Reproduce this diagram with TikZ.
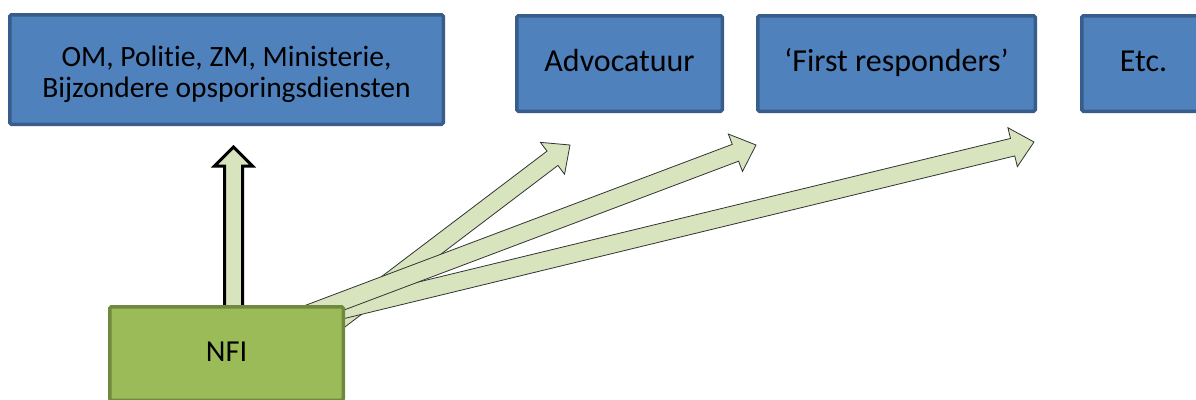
\documentclass[tikz,border=0pt]{standalone}
\usepackage{fontspec}
\setmainfont{Carlito}[Ligatures=NoCommon]
\usetikzlibrary{calc}
\definecolor{boxblue}{HTML}{4F81BD}
\definecolor{boxblueline}{HTML}{385D8A}
\definecolor{nfigreen}{HTML}{9BBB59}
\definecolor{nfiline}{HTML}{71893F}
\definecolor{arrowfill}{HTML}{D7E4BD}
\newcommand{\blockarr}[6]{%
  \coordinate (hb) at ($(#2)!#5!(#1)$);
  \draw[#6] ($(#1)!#3!90:(#2)$) -- ($(hb)!#3!-90:(#1)$) -- ($(hb)!#4!-90:(#1)$) -- (#2)
    -- ($(hb)!#4!90:(#1)$) -- ($(hb)!#3!90:(#1)$) -- ($(#1)!#3!-90:(#2)$) -- cycle;}
\tikzset{
  bluebox/.style={draw=boxblueline, fill=boxblue, line width=3.5pt, rounded corners=1.5pt,
    inner sep=0pt, align=center, text=black, font=\fontsize{32}{37}\selectfont,
    text height=22pt, text depth=5.6pt},
  nfibox/.style={draw=nfiline, fill=nfigreen, line width=3.5pt, rounded corners=1.5pt,
    inner sep=0pt, text=black, font=\fontsize{30.5}{36}\selectfont,
    text height=22pt, text depth=5.6pt},
  plaintext/.style={inner sep=0pt, align=center, text=black, font=\fontsize{29.5}{31}\selectfont},
  thinarrow/.style={draw=black!80, fill=arrowfill, line width=0.8pt, line join=miter},
  thickarrow/.style={draw=black, fill=arrowfill, line width=3pt, line join=miter},
}
\begin{document}
\begin{tikzpicture}[x=1pt,y=-1pt]
\clip (0,0) rectangle (1196,399);
\fill[white] (0,0) rectangle (1196,399);
% named arrow ends
\coordinate (a1s) at (326,330);
\coordinate (a1t) at (570,145);
\coordinate (a2s) at (300,317);
\coordinate (a2t) at (756,145);
\coordinate (a3s) at (300,320);
\coordinate (a3t) at (1034,142);
\coordinate (avs) at (233.5,320);
\coordinate (avt) at (233.5,147);
% arrows (behind the NFI box)
\blockarr{a1s}{a1t}{9pt}{20pt}{22pt}{thinarrow}
\blockarr{a3s}{a3t}{9pt}{20pt}{22pt}{thinarrow}
\blockarr{a2s}{a2t}{9pt}{20pt}{22pt}{thinarrow}
\blockarr{avs}{avt}{9pt}{19pt}{19pt}{thickarrow}
% boxes
\node[nfibox, minimum width=233.5pt, minimum height=93.5pt] (nfi) at (226.5,353.5) {NFI};
\node[bluebox, minimum width=433.5pt, minimum height=109.5pt] (om) at (226.5,69.5) {};
\node[plaintext] (omtext) at ($(om.center)+(0,5)$)
  {OM, Politie, ZM, Ministerie,\\Bijzondere opsporingsdiensten};
\node[bluebox, minimum width=205.5pt, minimum height=95.5pt] (adv) at (619.5,63.5) {Advocatuur};
\node[bluebox, minimum width=277.5pt, minimum height=95.5pt] (fr) at (896.5,63.5) {‘First responders’};
\node[bluebox, minimum width=123.5pt, minimum height=95.5pt] (etc) at (1143.5,63.5) {Etc.};
\end{tikzpicture}
\end{document}
